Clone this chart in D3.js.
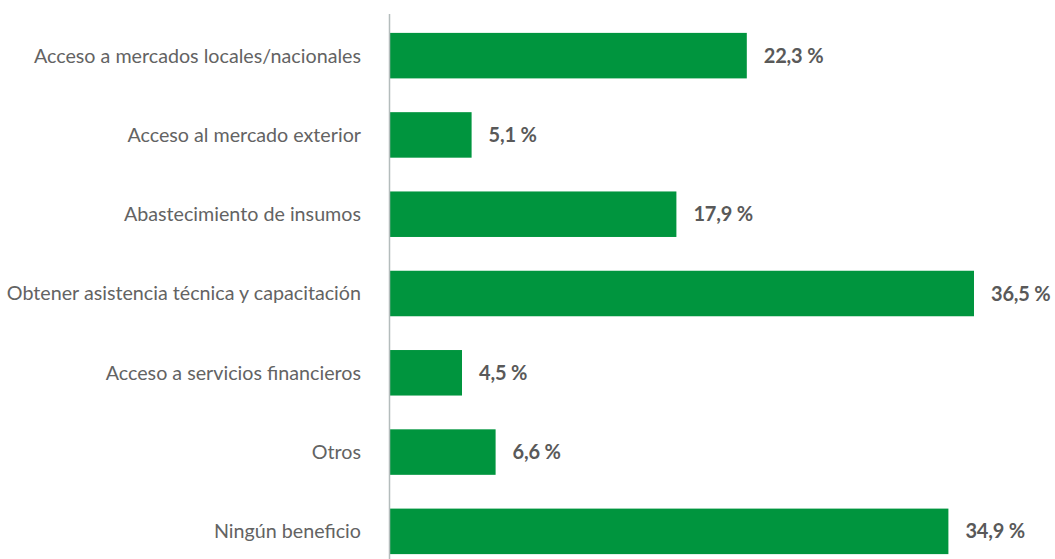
<html>
<head>
<meta charset="utf-8">
<style>
body { margin: 0; background: #fff; }
svg text { font-family: Lato, "Open Sans", sans-serif; }
</style>
</head>
<body>
<svg id="chart" width="1055" height="559"></svg>
<script src="https://d3js.org/d3.v7.min.js"></script>
<script>
const categories = ["Acceso a mercados locales/nacionales", "Acceso al mercado exterior", "Abastecimiento de insumos",
    "Obtener asistencia técnica y capacitación", "Acceso a servicios financieros", "Otros", "Ningún beneficio"];
const values = [22.3, 5.1, 17.9, 36.5, 4.5, 6.6, 34.9];
const labels = ["22,3 %", "5,1 %", "17,9 %", "36,5 %", "4,5 %", "6,6 %", "34,9 %"];

const svg = d3.select("#chart");
const x = d3.scaleLinear().domain([0, 36.5]).range([390, 974]);
const y = d3.scaleBand().domain(categories).range([16, 571]).paddingInner(0.426).paddingOuter(0.213);

svg.selectAll("rect.bar").data(values).join("rect")
    .attr("class", "bar")
    .attr("x", x(0))
    .attr("y", (d, i) => y(categories[i]))
    .attr("width", d => x(d) - x(0))
    .attr("height", y.bandwidth())
    .attr("fill", "#00953e");

// axis line
svg.append("line").attr("x1", 389.5).attr("x2", 389.5).attr("y1", 14).attr("y2", 559)
    .attr("stroke", "#b4bcbc").attr("stroke-width", 1.5);

svg.selectAll("text.cat").data(categories).join("text")
    .attr("class", "cat")
    .attr("x", 361)
    .attr("y", d => y(d) + y.bandwidth() / 2)
    .attr("dy", "0.35em")
    .attr("text-anchor", "end")
    .attr("font-size", 19.7)
    .attr("fill", "#636363")
    .text(d => d);

svg.selectAll("text.val").data(values).join("text")
    .attr("class", "val")
    .attr("x", d => x(d) + 17)
    .attr("y", (d, i) => y(categories[i]) + y.bandwidth() / 2)
    .attr("dy", "0.35em")
    .attr("font-size", 20)
    .attr("font-weight", "bold")
    .attr("fill", "#595959")
    .attr("letter-spacing", -0.2)
    .text((d, i) => labels[i]);
</script>
</body>
</html>
